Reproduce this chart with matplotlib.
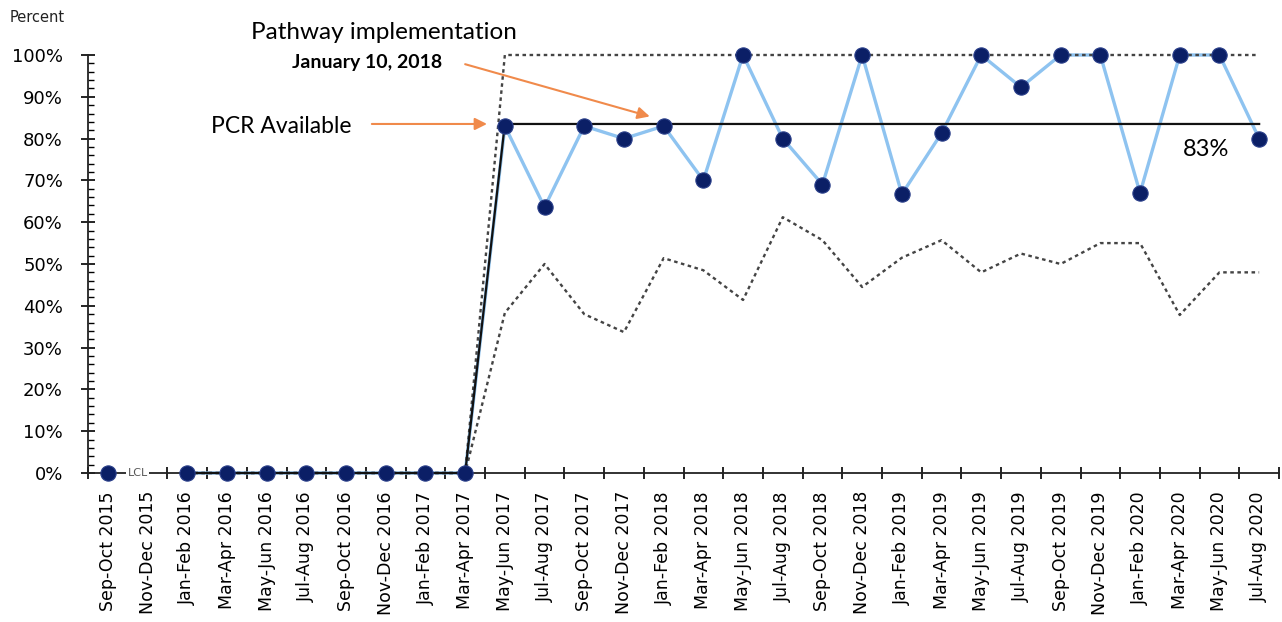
import numpy as np
import matplotlib
matplotlib.use("Agg")
import matplotlib.pyplot as plt
from matplotlib.ticker import MultipleLocator, FixedLocator

categories = [
    "Sep-Oct 2015", "Nov-Dec 2015",
    "Jan-Feb 2016", "Mar-Apr 2016", "May-Jun 2016", "Jul-Aug 2016", "Sep-Oct 2016", "Nov-Dec 2016",
    "Jan-Feb 2017", "Mar-Apr 2017", "May-Jun 2017", "Jul-Aug 2017", "Sep-Oct 2017", "Nov-Dec 2017",
    "Jan-Feb 2018", "Mar-Apr 2018", "May-Jun 2018", "Jul-Aug 2018", "Sep-Oct 2018", "Nov-Dec 2018",
    "Jan-Feb 2019", "Mar-Apr 2019", "May-Jun 2019", "Jul-Aug 2019", "Sep-Oct 2019", "Nov-Dec 2019",
    "Jan-Feb 2020", "Mar-Apr 2020", "May-Jun 2020", "Jul-Aug 2020",
]
nan = np.nan
percent = [0, nan, 0, 0, 0, 0, 0, 0, 0, 0,
           83, 63.6, 83, 80, 83, 70, 100, 80, 69, 100,
           66.7, 81.3, 100, 92.3, 100, 100, 67, 100, 100, 80]
center = [nan, nan, 0, 0, 0, 0, 0, 0, 0, 0] + [83.5] * 20
ucl = [nan, nan, 0, 0, 0, 0, 0, 0, 0, 0] + [100] * 20
lcl = [nan, nan, 0, 0, 0, 0, 0, 0, 0, 0,
       38.3, 50, 38, 33.7, 51.4, 48.5, 41.4, 61.2, 55.7, 44.5,
       51.5, 55.7, 48, 52.5, 50, 55, 55, 37.8, 48, 48]

x = np.arange(len(categories))

fig = plt.figure(figsize=(12.82, 6.22), dpi=100)
ax = fig.add_axes([88 / 1282, 1 - 473 / 622, (1279 - 88) / 1282, (473 - 55) / 622])

ax.plot(x, percent, color="#8EC3F0", lw=2.4, zorder=2, clip_on=False)
ax.plot(x, ucl, color="#444444", lw=1.7, ls=(0, (1.5, 1.5)), zorder=3, clip_on=False)
ax.plot(x, lcl, color="#444444", lw=1.7, ls=(0, (1.5, 1.5)), zorder=3, clip_on=False)
ax.plot(x, center, color="#111111", lw=1.6, zorder=3, clip_on=False)
ax.plot(x, percent, ls="none", marker="o", ms=11, color="#0B1F66",
        markeredgecolor="#2A3F8A", markeredgewidth=0.8, zorder=5, clip_on=False)

ax.set_xlim(-0.5, 29.5)
ax.set_ylim(0, 100)
for s in ["top", "right"]:
    ax.spines[s].set_visible(False)
for s in ["left", "bottom"]:
    ax.spines[s].set_color("#222222")
    ax.spines[s].set_linewidth(1.3)

ax.yaxis.set_minor_locator(MultipleLocator(2))
ax.set_yticks(range(0, 101, 10))
ax.set_yticklabels([f"{v}%" for v in range(0, 101, 10)], fontsize=13, family="DejaVu Sans")
ax.tick_params(axis="y", which="major", direction="inout", length=10, width=1.2, pad=13)
ax.tick_params(axis="y", which="minor", direction="in", length=4, width=1)

ax.set_xticks(x)
ax.set_xticklabels(categories, rotation=90, fontsize=12.5, family="DejaVu Sans")
ax.xaxis.set_minor_locator(FixedLocator(np.arange(-0.5, 30, 1)))
ax.tick_params(axis="x", which="major", length=0, pad=13)
ax.tick_params(axis="x", which="minor", direction="inout", length=9, width=1.2)

fig.text(10 / 1282, 1 - 18 / 622, "Percent", fontsize=10.5, va="center", ha="left", color="#222222")

orange = "#F08A4B"
ax.text(6.95, 105.3, "Pathway implementation", fontsize=17.5, family="Lato",
        ha="center", va="center", clip_on=False)
ax.text(6.52, 98.3, "January 10, 2018", fontsize=14, family="Lato", weight="bold",
        ha="center", va="center", clip_on=False)
ax.text(4.38, 83, "PCR Available", fontsize=16.5, family="Lato",
        ha="center", va="center", clip_on=False)
ax.text(27.66, 77.3, "83%", fontsize=17, family="Lato", ha="center", va="center")
ax.text(0.75, 0, "LCL", fontsize=8, color="#555555", ha="center", va="center", zorder=6,
        clip_on=False,
        bbox=dict(boxstyle="square,pad=0.15", facecolor="white", edgecolor="none"))

ax.annotate("", xy=(9.55, 83.5), xytext=(6.65, 83.5),
            arrowprops=dict(arrowstyle="-|>", color=orange, lw=1.5, mutation_scale=18,
                            shrinkA=0, shrinkB=0), annotation_clip=False)
ax.annotate("", xy=(13.65, 85.3), xytext=(9.0, 97.8),
            arrowprops=dict(arrowstyle="-|>", color=orange, lw=1.5, mutation_scale=18,
                            shrinkA=0, shrinkB=0), annotation_clip=False)

fig.savefig("out.png", dpi=100)
